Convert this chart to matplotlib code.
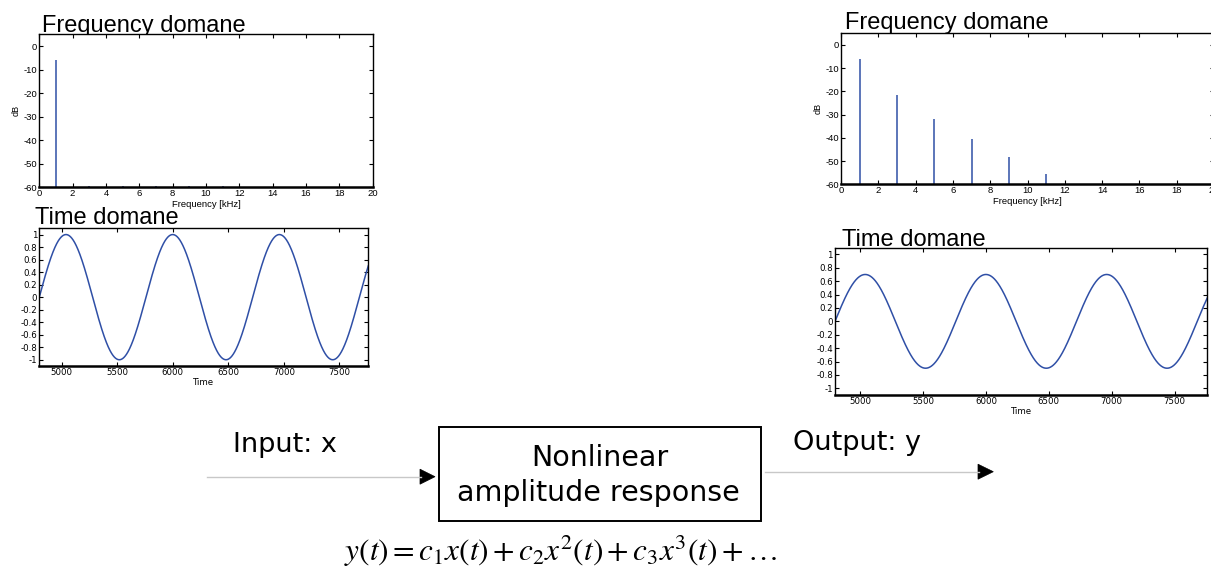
import numpy as np
import matplotlib
matplotlib.use("Agg")
import matplotlib.pyplot as plt
from matplotlib.patches import Rectangle, Polygon
from matplotlib.lines import Line2D

# ---------------- data ----------------
harm_freq_khz = [1, 3, 5, 7, 9, 11]
input_db = [-6.0, -59.6, -59.6, -59.6, -59.6, -59.6]
output_db = [-6.2, -21.5, -32.0, -40.3, -48.2, -55.6]
freq_ticks = [0, 2, 4, 6, 8, 10, 12, 14, 16, 18, 20]
db_ticks = [0, -10, -20, -30, -40, -50, -60]
time_ticks = [5000, 5500, 6000, 6500, 7000, 7500]
amp_ticks = [1, 0.8, 0.6, 0.4, 0.2, 0, -0.2, -0.4, -0.6, -0.8, -1]
time_start, time_end = 4800, 7760
period_samples = 960
input_amplitude = 1.0
output_amplitude = 0.7

W, H = 1211, 572
plt.rcParams['mathtext.fontset'] = 'stix'
fig = plt.figure(figsize=(W / 100, H / 100), dpi=100)

BLUE = '#2f4fa6'
SANS = ['Liberation Sans', 'DejaVu Sans']
WIDE = ['DejaVu Sans']


def px_axes(x0, y0, x1, y1):
    return fig.add_axes([x0 / W, 1 - y1 / H, (x1 - x0) / W, (y1 - y0) / H])


def style(ax):
    ax.tick_params(direction='in', top=True, right=True, length=3, width=0.8, pad=1.5)
    for s in ['top', 'left', 'right']:
        ax.spines[s].set_linewidth(1.0)
    ax.spines['bottom'].set_linewidth(1.8)


def freq_axes(rect, db):
    ax = px_axes(*rect)
    ax.vlines(harm_freq_khz, -60, db, color=BLUE, lw=1.1)
    ax.set_xlim(0, 20)
    ax.set_ylim(-60, 5)
    ax.set_xticks(freq_ticks)
    ax.set_yticks(db_ticks)
    ax.set_xticklabels([str(v) for v in freq_ticks], fontsize=6.8, family=SANS)
    ax.set_yticklabels([str(v) for v in db_ticks], fontsize=6.8, family=SANS)
    ax.set_xlabel('Frequency [kHz]', fontsize=6.8, family=SANS, labelpad=1.5)
    ax.set_ylabel('dB', fontsize=6.5, family=SANS, labelpad=2)
    style(ax)
    return ax


def time_axes(rect, amp):
    ax = px_axes(*rect)
    t = np.arange(time_start, time_end + 1)
    y = amp * np.sin(2 * np.pi * (t - time_start) / period_samples)
    ax.plot(t, y, color=BLUE, lw=1.1)
    ax.set_xlim(time_start, time_end)
    ax.set_ylim(-1.1, 1.1)
    ax.set_xticks(time_ticks)
    ax.set_yticks(amp_ticks)
    ax.set_xticklabels([str(v) for v in time_ticks], fontsize=6.2, family=WIDE)
    ax.set_yticklabels(['%g' % v for v in amp_ticks], fontsize=6.2, family=WIDE)
    ax.set_xlabel('Time', fontsize=6.2, family=WIDE, labelpad=1)
    style(ax)
    return ax


# overlay axes in pixel coordinates for the diagram
ov = fig.add_axes([0, 0, 1, 1], zorder=-1)
ov.set_xlim(0, W)
ov.set_ylim(H, 0)
ov.axis('off')

freq_axes((39.3, 34.3, 372.7, 187.3), input_db)
time_axes((39.3, 228.3, 368.3, 366.0), input_amplitude)
freq_axes((841.0, 33.3, 1214.0, 184.3), output_db)
time_axes((835.0, 247.7, 1207.3, 395.0), output_amplitude)

title_kw = dict(fontsize=17.0, family=SANS, va='baseline', ha='left', color='black')
ov.text(42, 32.3, 'Frequency domane', **title_kw)
ov.text(35, 224.3, 'Time domane', **title_kw)
ov.text(845, 29.3, 'Frequency domane', **title_kw)
ov.text(842, 246, 'Time domane', **title_kw)

# block diagram
ov.add_patch(Rectangle((439.3, 427.3), 760.5 - 439.3, 520.7 - 427.3, fill=False,
                       edgecolor='black', lw=1.4))
ov.text(600, 466, 'Nonlinear', fontsize=20.5, family=WIDE, ha='center', va='baseline')
ov.text(598, 501, 'amplitude response', fontsize=20.5, family=WIDE, ha='center', va='baseline')
ov.text(233, 452, 'Input: x', fontsize=19.5, family=WIDE, ha='left', va='baseline')
ov.text(793, 450, 'Output: y', fontsize=19.5, family=WIDE, ha='left', va='baseline')

ov.add_line(Line2D([206.7, 421], [476.7, 476.7], color='#c8c8c8', lw=1.0))
ov.add_patch(Polygon([(420, 469.2), (435, 476.7), (420, 484.2)], closed=True,
                     facecolor='black', edgecolor='black', lw=0.5))
ov.add_line(Line2D([765, 979], [471.7, 471.7], color='#c8c8c8', lw=1.0))
ov.add_patch(Polygon([(978, 464.2), (993.3, 471.7), (978, 479.2)], closed=True,
                     facecolor='black', edgecolor='black', lw=0.5))

ov.text(560, 561, r'$y(t) = c_1 x(t) + c_2 x^2(t) + c_3 x^3(t) + \ldots$',
        fontsize=22.5, ha='center', va='baseline')

fig.savefig('out.png', dpi=100)
